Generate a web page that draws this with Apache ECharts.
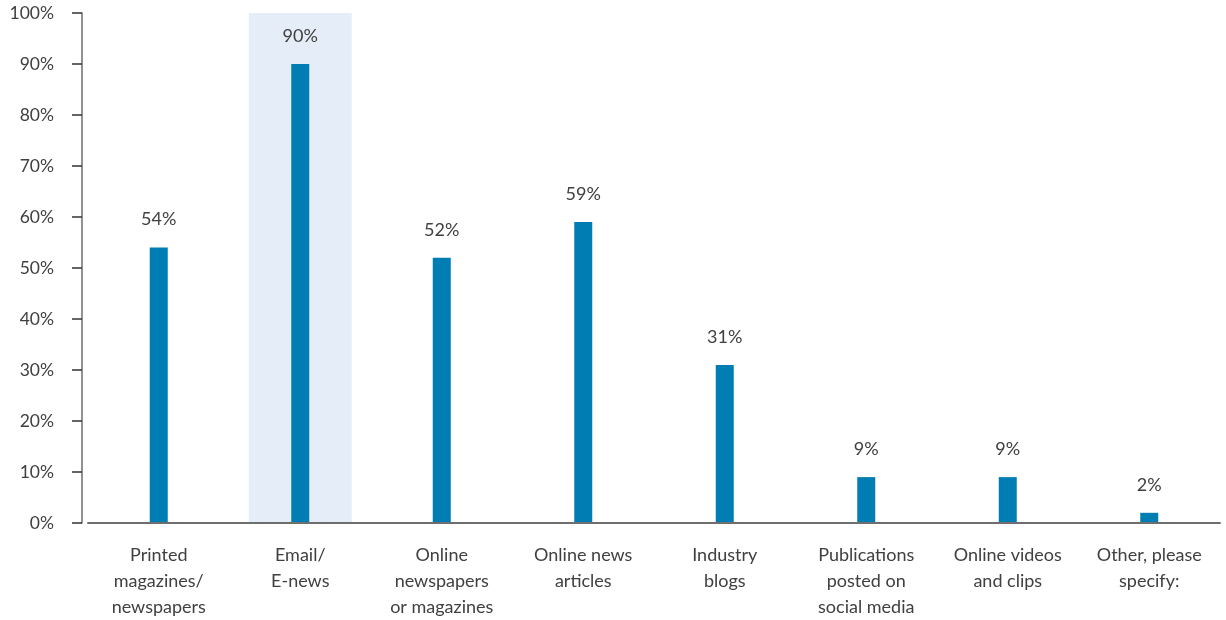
<!DOCTYPE html>
<html>
<head>
<meta charset="utf-8">
<script src="https://cdn.jsdelivr.net/npm/echarts@6/dist/echarts.min.js"></script>
<style>
  html, body { margin: 0; padding: 0; background: #fff; overflow: hidden; }
  #chart { width: 1226px; height: 620px; }
</style>
</head>
<body>
<div id="chart"></div>
<script>
// Channels used for reading news (share of respondents)
const categories = [
  'Printed\nmagazines/\nnewspapers',
  'Email/\nE-news',
  'Online\nnewspapers\nor magazines',
  'Online news\narticles',
  'Industry\nblogs',
  'Publications\nposted on\nsocial media',
  'Online videos\nand clips',
  'Other, please\nspecify:'
];
const values = [54, 90, 52, 59, 31, 9, 9, 2];
// Shaded column behind the leading channel
const highlight = [null, 100, null, null, null, null, null, null];
const yTicks = [0, 10, 20, 30, 40, 50, 60, 70, 80, 90, 100];

const textColor = '#404040';
const fontFamily = 'Lato, "Open Sans", sans-serif';

const chart = echarts.init(document.getElementById('chart'));
chart.setOption({
  animation: false,
  grid: { left: 88, right: 6, top: 13, bottom: 93 },
  xAxis: [
    {
      type: 'category',
      data: categories,
      axisLine: { lineStyle: { color: '#6e6e6e', width: 2 } },
      axisTick: { show: false },
      axisLabel: {
        color: textColor, fontFamily, fontSize: 18, lineHeight: 26,
        margin: 19, interval: 0
      },
      z: 5
    },
    {
      // hidden copy of the category axis so the shading centres on its band
      type: 'category',
      data: categories,
      show: false
    }
  ],
  yAxis: {
    type: 'value',
    min: yTicks[0],
    max: yTicks[yTicks.length - 1],
    interval: 10,
    offset: 6,
    axisLine: { show: true, lineStyle: { color: '#6e6e6e', width: 1.5 } },
    axisTick: { show: true, length: 10, lineStyle: { color: '#333', width: 1.5 } },
    splitLine: { show: false },
    axisLabel: {
      color: textColor, fontFamily, fontSize: 17.5, margin: 28,
      formatter: v => v + '%'
    }
  },
  series: [
    {
      type: 'bar',
      xAxisIndex: 1,
      data: highlight,
      barWidth: 103,
      itemStyle: { color: '#e5eef8' },
      silent: true,
      z: 1
    },
    {
      type: 'bar',
      xAxisIndex: 0,
      data: values,
      barWidth: 18,
      itemStyle: { color: '#007db3' },
      label: {
        show: true, position: 'top', distance: 19,
        color: textColor, fontFamily, fontSize: 18,
        formatter: p => p.value + '%'
      },
      z: 3
    }
  ]
});
</script>
</body>
</html>
